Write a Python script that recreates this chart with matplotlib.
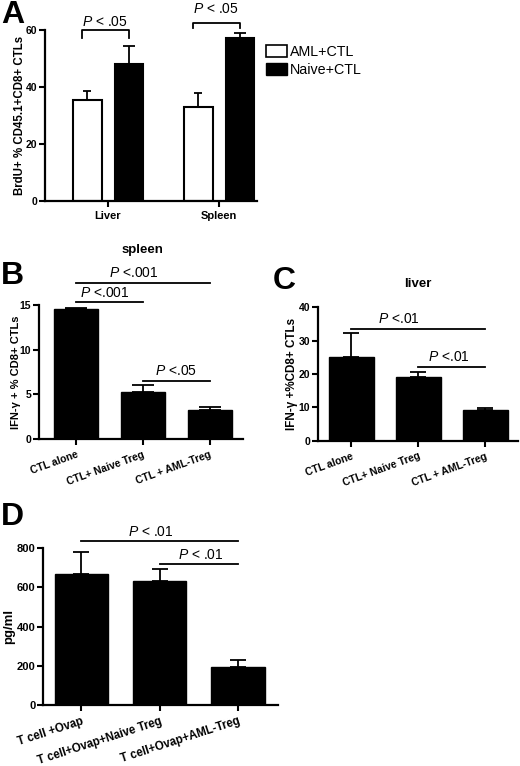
import numpy as np
import matplotlib
matplotlib.use("Agg")
import matplotlib.pyplot as plt
import matplotlib.transforms as mtransforms
from matplotlib.patches import Patch

plt.rcParams['font.family'] = ['Liberation Sans', 'DejaVu Sans']
plt.rcParams['mathtext.fontset'] = 'custom'
plt.rcParams['mathtext.it'] = 'Liberation Sans:italic'
plt.rcParams['mathtext.rm'] = 'Liberation Sans'

# ---- data ----
# A: BrdU+ % CD45.1+CD8+ CTLs
a_groups = ["Liver", "Spleen"]
a_aml = [35.5, 33.0]
a_aml_err = [3.2, 4.9]
a_naive = [48.0, 57.3]
a_naive_err = [6.5, 1.7]

# B: spleen IFN-g
b_labels = ["CTL alone", "CTL+ Naive Treg", "CTL + AML-Treg"]
b_vals = [14.5, 5.3, 3.2]
b_err = [0.15, 0.75, 0.4]

# C: liver IFN-g
c_labels = ["CTL alone", "CTL+ Naive Treg", "CTL + AML-Treg"]
c_vals = [25.0, 19.2, 9.2]
c_err = [7.2, 1.3, 0.7]

# D: pg/ml
d_labels = ["T cell +Ovap", "T cell+Ovap+Naive Treg", "T cell+Ovap+AML-Treg"]
d_vals = [670, 632, 196]
d_err = [110, 63, 34]

# significance lines: (from bar, to bar, height, text x, label)
b_sig = [(0, 2, 17.5, 0.87, "$P$ <.001"), (0, 1, 15.3, 0.43, "$P$ <.001"),
         (1, 2, 6.5, 1.5, "$P$ <.05")]
c_sig = [(0, 2, 33.5, 0.71, "$P$ <.01"), (1, 2, 22.2, 1.46, "$P$ <.01")]
d_sig = [(0, 2, 836, 0.89, "$P$ < .01"), (1, 2, 718, 1.52, "$P$ < .01")]

W, H = 520, 766
fig = plt.figure(figsize=(W / 100, H / 100), dpi=100)


def ax_at(l, t, r, b):
    return fig.add_axes([l / W, 1 - b / H, (r - l) / W, (b - t) / H])


def style(ax, tsize=7.5):
    for s in ['top', 'right']:
        ax.spines[s].set_visible(False)
    for s in ['left', 'bottom']:
        ax.spines[s].set_linewidth(1.6)
    ax.tick_params(width=1.5, length=4)
    ax.tick_params(axis='y', labelsize=tsize, pad=1.5)
    for lab in ax.get_yticklabels():
        lab.set_fontweight('bold')


def ylab(ax, text, xpx, size):
    ax.set_ylabel(text, fontsize=size, fontweight='bold')
    tr = mtransforms.blended_transform_factory(fig.transFigure, ax.transAxes)
    ax.yaxis.set_label_coords(xpx / W, 0.5, transform=tr)
    ax.yaxis.label.set_va('center')


def ftext(x, y, s, **kw):
    fig.text(x / W, 1 - y / H, s, **kw)


def sig_lines(ax, sigs):
    for i0, i1, y, tx, txt in sigs:
        ax.plot([i0, i1], [y, y], color='black', lw=1.3, clip_on=False)
        ax.annotate(txt, (tx, y), xytext=(0, 4), textcoords='offset points',
                    ha='center', va='baseline', fontsize=10, annotation_clip=False)


def bar_panel(ax, labels, vals, err, width, cap, xlim, ylim, yticks, rot, xsize, ysize):
    x = np.arange(len(vals))
    ax.bar(x, vals, width=width, color='black', edgecolor='black')
    ax.errorbar(x, vals, yerr=[np.zeros(len(err)), err], fmt='none',
                ecolor='black', elinewidth=1.3, capsize=cap, capthick=1.3)
    ax.set_xlim(*xlim)
    ax.set_ylim(*ylim)
    ax.set_yticks(yticks)
    ax.set_xticks(x)
    ax.set_xticklabels(labels, rotation=rot, ha='right', rotation_mode='anchor',
                       fontweight='bold', fontsize=xsize)
    style(ax, ysize)


# ---- A ----
axA = ax_at(45, 30.3, 257, 200.7)
xa = np.arange(len(a_groups))
off, bw = 0.187, 0.257
axA.bar(xa - off, a_aml, width=bw, color='white', edgecolor='black', linewidth=1.5)
axA.bar(xa + off, a_naive, width=bw, color='black', edgecolor='black', linewidth=1.5)
axA.errorbar(xa - off, a_aml, yerr=[np.zeros(2), a_aml_err], fmt='none',
             ecolor='black', elinewidth=1.3, capsize=3, capthick=1.3)
axA.errorbar(xa + off, a_naive, yerr=[np.zeros(2), a_naive_err], fmt='none',
             ecolor='black', elinewidth=1.3, capsize=4, capthick=1.3)
axA.set_xlim(-0.568, 1.342)
axA.set_ylim(0, 60)
axA.set_yticks([0, 20, 40, 60])
axA.set_xticks(xa)
axA.set_xticklabels(a_groups, fontweight='bold', fontsize=8)
style(axA)
ylab(axA, "BrdU+ % CD45.1+CD8+ CTLs", 20, 8.3)
# brackets
for xc, top, tip, ty in [(0, 60.1, 57.3, 61.5), (1, 62.7, 60.9, 66.0)]:
    x0, x1 = xc - off - 0.05, xc + off
    axA.plot([x0, x0, x1, x1], [tip, top, top, tip], color='black', lw=1.3, clip_on=False)
    axA.text((x0 + x1) / 2, ty, "$P$ < .05", ha='center', va='baseline', fontsize=10)
axA.legend(handles=[Patch(facecolor='white', edgecolor='black', linewidth=1.2, label='AML+CTL'),
                    Patch(facecolor='black', edgecolor='black', label='Naive+CTL')],
           loc='upper left', bbox_to_anchor=(266 / W, 1 - 45 / H),
           bbox_transform=fig.transFigure, frameon=False, fontsize=10.3,
           handlelength=1.45, handleheight=0.9, handletextpad=0.2,
           labelspacing=0.3, borderpad=0, borderaxespad=0)

# ---- B ----
axB = ax_at(39, 305, 243, 439)
bar_panel(axB, b_labels, b_vals, b_err, 0.66, 8, (-0.554, 2.50), (0, 15),
          [0, 5, 10, 15], 20, 7.5, 7.5)
ylab(axB, "IFN-\u03b3 + % CD8+ CTLs", 16, 8)
sig_lines(axB, b_sig)
ftext(142, 250, "spleen", ha='center', va='center', fontsize=9.5, fontweight='bold')

# ---- C ----
axC = ax_at(318, 307.3, 518, 440.7)
bar_panel(axC, c_labels, c_vals, c_err, 0.67, 6, (-0.50, 2.49), (0, 40),
          [0, 10, 20, 30, 40], 20, 7.5, 7.5)
ylab(axC, "IFN-\u03b3 +%CD8+ CTLs", 292, 8.4)
sig_lines(axC, c_sig)
ftext(418, 284, "liver", ha='center', va='center', fontsize=9.5, fontweight='bold')

# ---- D ----
axD = ax_at(43, 548.3, 278, 705)
bar_panel(axD, d_labels, d_vals, d_err, 0.68, 6, (-0.49, 2.51), (0, 800),
          [0, 200, 400, 600, 800], 18, 8.3, 8)
ylab(axD, "pg/ml", 9, 9.5)
sig_lines(axD, d_sig)

# panel letters
for x, y, s in [(1, 0, "A"), (1, 261, "B"), (273, 266, "C"), (1, 502, "D")]:
    ftext(x, y, s, ha='left', va='top', fontsize=23, fontweight='bold')

fig.savefig("out.png", dpi=100)
